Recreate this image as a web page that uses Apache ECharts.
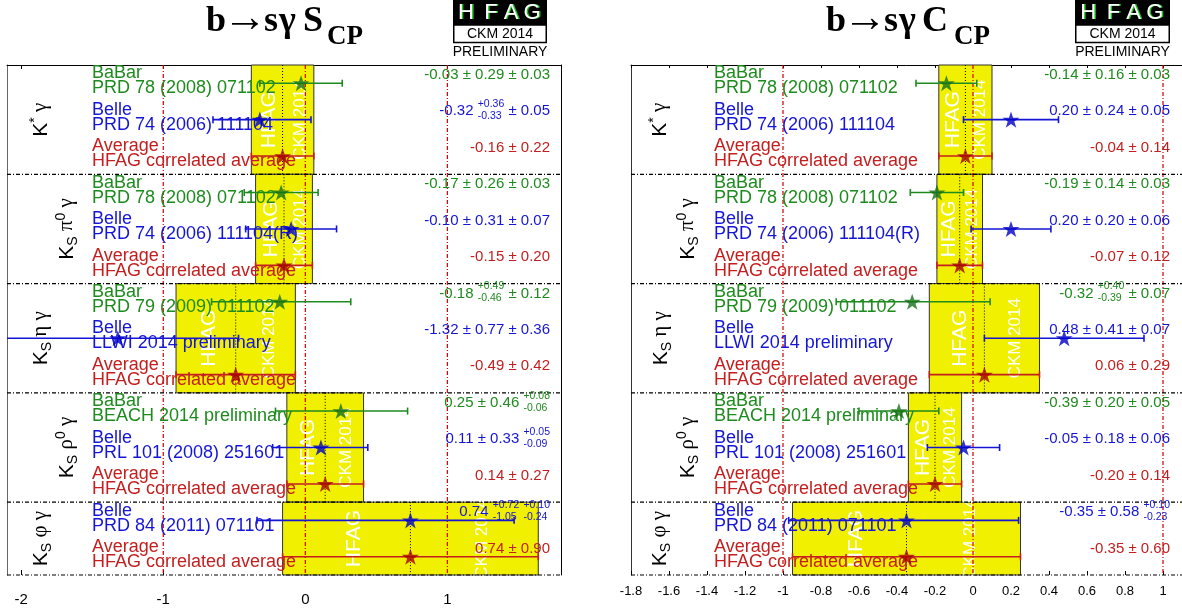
<!DOCTYPE html>
<html><head><meta charset="utf-8">
<script src="https://cdn.jsdelivr.net/npm/echarts@6.0.0/dist/echarts.min.js"></script>
<style>html,body{margin:0;padding:0;background:#fff;}#chart{width:1182px;height:615px;}</style>
</head><body><div id="chart"></div>
<script>
// ================= DATA =================
const experiments = ['BaBar','Belle','Average','BaBar','Belle','Average','BaBar','Belle','Average','BaBar','Belle','Average','Belle','Average'];
const references = ['PRD 78 (2008) 071102','PRD 74 (2006) 111104','HFAG correlated average',
  'PRD 78 (2008) 071102','PRD 74 (2006) 111104(R)','HFAG correlated average',
  'PRD 79 (2009) 011102','LLWI 2014 preliminary','HFAG correlated average',
  'BEACH 2014 preliminary','PRL 101 (2008) 251601','HFAG correlated average',
  'PRD 84 (2011) 071101','HFAG correlated average'];
const sectionBounds = [0, 3, 6, 9, 12, 14];
const averageRows = [2, 5, 8, 11, 13];
// decay labels: [text, kind]  kind: '' normal, 'sup', 'sub', 'greek'
const decayLabels = [
  [['K',''],['*','sup'],[' γ','greek']],
  [['K',''],['S','sub'],[' π','greek'],['0','sup'],[' γ','greek']],
  [['K',''],['S','sub'],[' η','greek'],[' γ','greek']],
  [['K',''],['S','sub'],[' ρ','greek'],['0','sup'],[' γ','greek']],
  [['K',''],['S','sub'],[' φ','greek'],[' γ','greek']]
];
// S_CP panel
const sCentral = [-0.03,-0.32,-0.16,-0.17,-0.10,-0.15,-0.18,-1.32,-0.49,0.25,0.11,0.14,0.74,0.74];
const sErrLow  = [0.29,0.33,0.22,0.26,0.32,0.20,0.48,0.85,0.42,0.46,0.34,0.27,1.08,0.90];
const sErrHigh = [0.29,0.36,0.22,0.26,0.32,0.20,0.50,0.85,0.42,0.47,0.33,0.27,0.73,0.90];
const sValueText = ['-0.03 ± 0.29 ± 0.03','-0.32 {+0.36|-0.33} ± 0.05','-0.16 ± 0.22',
  '-0.17 ± 0.26 ± 0.03','-0.10 ± 0.31 ± 0.07','-0.15 ± 0.20',
  '-0.18 {+0.49|-0.46} ± 0.12','-1.32 ± 0.77 ± 0.36','-0.49 ± 0.42',
  '0.25 ± 0.46 {+0.08|-0.06}','0.11 ± 0.33 {+0.05|-0.09}','0.14 ± 0.27',
  '0.74 {+0.72|-1.05} {+0.10|-0.24}','0.74 ± 0.90'];
const sTicks = [-2, -1, 0, 1];
// C_CP panel
const cCentral = [-0.14,0.20,-0.04,-0.19,0.20,-0.07,-0.32,0.48,0.06,-0.39,-0.05,-0.20,-0.35,-0.35];
const cErrLow  = [0.16,0.25,0.14,0.14,0.21,0.12,0.40,0.42,0.29,0.21,0.19,0.14,0.62,0.60];
const cErrHigh = [0.16,0.25,0.14,0.14,0.21,0.12,0.41,0.42,0.29,0.21,0.19,0.14,0.59,0.60];
const cValueText = ['-0.14 ± 0.16 ± 0.03','0.20 ± 0.24 ± 0.05','-0.04 ± 0.14',
  '-0.19 ± 0.14 ± 0.03','0.20 ± 0.20 ± 0.06','-0.07 ± 0.12',
  '-0.32 {+0.40|-0.39} ± 0.07','0.48 ± 0.41 ± 0.07','0.06 ± 0.29',
  '-0.39 ± 0.20 ± 0.05','-0.05 ± 0.18 ± 0.06','-0.20 ± 0.14',
  '-0.35 ± 0.58 {+0.10|-0.23}','-0.35 ± 0.60'];
const referenceLines = [-1, 0, 1];
const titles = [['b','→','s','γ','S','CP'], ['b','→','s','γ','C','CP']];

// ================= STYLE / HELPERS =================
const SANS = '"Liberation Sans", Arial, Helvetica, sans-serif';
const SERIF = '"Liberation Serif", "Times New Roman", "DejaVu Serif", serif';
const GREEN = '#1e8b1e', BLUE = '#1515d5', RED = '#c41e1e';
const STAR = {BaBar:'#157015', Belle:'#0000c8', Average:'#a40000'};
const YELLOW = '#f0f000';
function expColor(n){ return n==='BaBar'?GREEN:(n==='Belle'?BLUE:RED); }
const mctx = document.createElement('canvas').getContext('2d');
function fontStr(size, family, weight){ return (weight||'normal')+' '+size+'px '+family; }
function tw(t, size, family, weight){ mctx.font = fontStr(size,family,weight); return mctx.measureText(t).width; }
function T(t, x, baseline, size, family, weight, color, align){
  const al = align || 'left';
  return {type:'text', x:x, y:baseline - 0.345*size,
    style:{text:t, font:fontStr(size,family,weight), fill:color, align:al, textAlign:al, verticalAlign:'middle', textVerticalAlign:'middle'}};
}
// value strings with {top|bottom} stacks, right aligned
function valueEls(spec, right, baseline, color){
  const size = 15, small = 10.5;
  const toks = spec.split(/(\{[^}]*\})/).filter(s=>s.length);
  const items = toks.map(tok=>{
    if (tok[0]==='{'){
      const parts = tok.slice(1,-1).split('|');
      return {stack:parts, w:Math.max(tw(parts[0],small,SANS), tw(parts[1],small,SANS))};
    }
    return {t:tok, w:tw(tok,size,SANS)};
  });
  const total = items.reduce((a,b)=>a+b.w,0);
  let x = right - total; const els = [];
  items.forEach(it=>{
    if (it.stack){
      els.push(T(it.stack[0], x, baseline-8.4, small, SANS, 'normal', color));
      els.push(T(it.stack[1], x, baseline+3.4, small, SANS, 'normal', color));
    } else {
      els.push(T(it.t, x, baseline, size, SANS, 'normal', color));
    }
    x += it.w;
  });
  return els;
}

const panels = [
  {central:sCentral, errLow:sErrLow, errHigh:sErrHigh, valueText:sValueText, min:-2.1, max:1.8,
   nameOff:85, valueRight:543, decayOff:[41,67,41,67,41]},
  {central:cCentral, errLow:cErrLow, errHigh:cErrHigh, valueText:cValueText, min:-1.8, max:1.2,
   nameOff:83, valueRight:539, decayOff:[36,64,37,64,36]}
];

const STAR_PATH = 'path://M50,0 L61.8,35.1 L98.8,35.1 L68.8,57 L80.2,92.2 L50,70.5 L19.8,92.2 L31.2,57 L1.2,35.1 L38.2,35.1 Z';

// ================= OPTION =================
const grids = [
  {left:7, top:65, width:554, height:510, show:false, containLabel:false, outerBoundsMode:'none'},
  {left:631, top:65, width:570, height:510, show:false, containLabel:false, outerBoundsMode:'none'}
];
const xAxes = [], yAxes = [], series = [];

panels.forEach((p, g)=>{
  const isS = g===0;
  const tickCfg = isS ? {customValues:sTicks} : {};
  xAxes.push({gridIndex:g, type:'value', position:'bottom', min:p.min, max:p.max,
    interval: isS ? undefined : 0.2,
    axisLine:{show:false, onZero:false},
    axisTick:Object.assign({show:true, inside:true, length: isS?5:4, lineStyle:{color:'#000', width:1}}, tickCfg),
    axisLabel:Object.assign({show:true, color:'#000', fontFamily:SANS, fontSize: isS?15:13, margin: isS?17:10, showMinLabel:true, showMaxLabel:true}, isS?{customValues:sTicks}:{}),
    splitLine:{show:false}});
  xAxes.push({gridIndex:g, type:'value', position:'top', min:p.min, max:p.max,
    interval: isS ? undefined : 0.2,
    axisLine:{show:true, onZero:false, lineStyle:{color:'#000', width:1}},
    axisTick:Object.assign({show:true, inside:true, length: isS?4:3, lineStyle:{color:'#000', width:1}}, tickCfg),
    axisLabel:{show:false}, splitLine:{show:false}});
  yAxes.push({gridIndex:g, type:'value', min:0, max:14, inverse:true, position:'left',
    axisLine:{show:true, onZero:false, lineStyle:{color: isS?'#666':'#333', width:1}}, axisTick:{show:false}, axisLabel:{show:false}, splitLine:{show:false}});
  yAxes.push({gridIndex:g, type:'value', min:0, max:14, inverse:true, position:'right',
    axisLine:{show:true, onZero:false, lineStyle:{color:'#000', width:1}}, axisTick:{show:false}, axisLabel:{show:false}, splitLine:{show:false}});
  const xi = 2*g, yi = 2*g;

  // yellow HFAG bands
  const bandData = averageRows.map((r, k)=>[p.central[r]-p.errLow[r], p.central[r]+p.errHigh[r], sectionBounds[k], sectionBounds[k+1], p.central[r]]);
  series.push({type:'custom', xAxisIndex:xi, yAxisIndex:yi, z:1, silent:true, data:bandData,
    renderItem:(params, api)=>{
      const a = api.coord([api.value(0), api.value(2)]), b = api.coord([api.value(1), api.value(3)]);
      const m1 = api.coord([api.value(4), api.value(2)]), m2 = api.coord([api.value(4), api.value(3)]);
      const w = b[0]-a[0], cy = (a[1]+b[1])/2;
      return {type:'group', children:[
        {type:'rect', shape:{x:a[0], y:a[1], width:w, height:b[1]-a[1]}, style:{fill:YELLOW, stroke:'#333', lineWidth:1}},
        {type:'line', shape:{x1:m1[0], y1:m1[1], x2:m2[0], y2:m2[1]}, style:{stroke:'#000', lineWidth:1, lineDash:[1,2]}},
        {type:'group', x:a[0]+0.28*w, y:cy, rotation:Math.PI/2, children:[
          {type:'text', x:0, y:0, style:{text:'HFAG', font:fontStr(21,SANS), fill:'#fff', align:'center', textAlign:'center', verticalAlign:'middle', textVerticalAlign:'middle'}}]},
        {type:'group', x:a[0]+0.78*w, y:cy, rotation:Math.PI/2, children:[
          {type:'text', x:0, y:0, style:{text:'CKM 2014', font:fontStr(17,SANS), fill:'#fff', align:'center', textAlign:'center', verticalAlign:'middle', textVerticalAlign:'middle'}}]}
      ]};
    }});

  // red dash-dot reference lines
  series.push({type:'custom', xAxisIndex:xi, yAxisIndex:yi, z:2, silent:true,
    data:referenceLines.map(v=>[v, 0]),
    renderItem:(params, api)=>{
      const a = api.coord([api.value(0), 0]), b = api.coord([api.value(0), 14]);
      return {type:'line', shape:{x1:a[0], y1:a[1], x2:b[0], y2:b[1]}, style:{stroke:'#cc0000', lineWidth:1.2, lineDash:[4,2,1,2]}};
    }});

  // section separators (dash-dot)
  series.push({type:'custom', xAxisIndex:xi, yAxisIndex:yi, z:2, silent:true,
    data:sectionBounds.slice(1).map(v=>[p.min, v]),
    renderItem:(params, api)=>{
      const a = api.coord([p.min, api.value(1)]), b = api.coord([p.max, api.value(1)]);
      return {type:'line', shape:{x1:a[0], y1:a[1], x2:b[0], y2:b[1]}, style:{stroke:'#000', lineWidth:1.2, lineDash:[4,2,1,2]}};
    }});

  // row texts
  series.push({type:'custom', xAxisIndex:xi, yAxisIndex:yi, z:3, silent:true,
    data:experiments.map((e,i)=>[0, i]),
    renderItem:(params, api)=>{
      const row = api.value(1);
      const cs = params.coordSys;
      const cy = api.coord([0, row+0.5])[1];
      const col = expColor(experiments[row]);
      const x0 = cs.x + p.nameOff;
      const children = [
        T(experiments[row], x0, cy-3.5, 18, SANS, 'normal', col),
        T(references[row], x0, cy+11.5, 18, SANS, 'normal', col)
      ].concat(valueEls(p.valueText[row], cs.x + p.valueRight, cy-3.2, col));
      return {type:'group', children:children};
    }});

  // decay labels (rotated)
  series.push({type:'custom', xAxisIndex:xi, yAxisIndex:yi, z:3, silent:true,
    data:decayLabels.map((d,k)=>[0, sectionBounds[k], sectionBounds[k+1], k]),
    renderItem:(params, api)=>{
      const k = api.value(3);
      const cy = (api.coord([0, api.value(1)])[1] + api.coord([0, api.value(2)])[1])/2;
      const bx = params.coordSys.x + p.decayOff[k];
      const segs = decayLabels[k].map(s=>{
        const kind = s[1];
        const size = (kind==='sup'||kind==='sub') ? 14 : 21;
        const fam = kind==='greek' ? SERIF : SANS;
        const dy = kind==='sup' ? -8.5 : (kind==='sub' ? 4 : 0);
        return {t:s[0], size:size, fam:fam, dy:dy, w:tw(s[0], size, fam)};
      });
      const total = segs.reduce((a,b)=>a+b.w,0);
      let x = -total/2; const children = [];
      segs.forEach(s=>{ children.push(T(s.t, x, s.dy, s.size, s.fam, 'normal', '#000')); x += s.w; });
      return {type:'group', x:bx, y:cy, rotation:Math.PI/2, children:children};
    }});

  // error bars
  series.push({type:'custom', xAxisIndex:xi, yAxisIndex:yi, z:4, silent:true,
    data:p.central.map((c,i)=>[c-p.errLow[i], c+p.errHigh[i], i+0.5, i]),
    renderItem:(params, api)=>{
      const lo = api.value(0), hi = api.value(1), yv = api.value(2), row = api.value(3);
      const col = expColor(experiments[row]);
      const a = api.coord([Math.max(lo, p.min), yv]), b = api.coord([Math.min(hi, p.max), yv]);
      const st = {stroke:col, lineWidth:1.6};
      const ch = [{type:'line', shape:{x1:a[0], y1:a[1], x2:b[0], y2:b[1]}, style:st}];
      if (lo >= p.min) ch.push({type:'line', shape:{x1:a[0], y1:a[1]-3.5, x2:a[0], y2:a[1]+3.5}, style:st});
      if (hi <= p.max) ch.push({type:'line', shape:{x1:b[0], y1:b[1]-3.5, x2:b[0], y2:b[1]+3.5}, style:st});
      return {type:'group', children:ch};
    }});

  // stars
  series.push({type:'scatter', xAxisIndex:xi, yAxisIndex:yi, z:5, silent:true,
    symbol:STAR_PATH, symbolSize:17, symbolKeepAspect:true,
    data:p.central.map((c,i)=>({value:[c, i+0.5], itemStyle:{color:STAR[experiments[i]]}}))});
});

// ================= TITLES AND LOGOS (graphic) =================
const graphic = [];
function titleEls(parts, x0, xs){
  parts.forEach((t,i)=>{
    let el;
    if (i === parts.length-1) el = T(t, x0+xs[i], 46, 27, SERIF, 'bold', '#000');
    else if (t === '→') el = T(t, x0+xs[i], 35, 44, SERIF, 'normal', '#000');
    else el = T(t, x0+xs[i], 34, 36, SERIF, 'bold', '#000');
    el.z = 10;
    graphic.push(el);
  });
}
titleEls(titles[0], 206, [0, 17, 58, 73, 97, 121]);
titleEls(titles[1], 826, [0, 17, 58, 73, 96, 128]);

function logo(x0, w){
  graphic.push({type:'rect', shape:{x:x0, y:0, width:w, height:25}, style:{fill:'#000'}, z:10});
  graphic.push({type:'rect', shape:{x:x0+0.75, y:25, width:w-1.5, height:17.5}, style:{fill:'#fff', stroke:'#000', lineWidth:1.5}, z:10});
  const letters = ['H','F','A','G'], offs = [13, 38, 58, 79];
  letters.forEach((l,i)=>{
    graphic.push({type:'text', x:x0+offs[i]*w/94+1.5, y:13, z:11, style:{text:l, font:fontStr(22,SANS), fill:'#1bbf1b', align:'center', textAlign:'center', verticalAlign:'middle', textVerticalAlign:'middle'}});
    graphic.push({type:'text', x:x0+offs[i]*w/94, y:13, z:12, style:{text:l, font:fontStr(22,SANS), fill:'#fff', align:'center', textAlign:'center', verticalAlign:'middle', textVerticalAlign:'middle'}});
  });
  graphic.push({type:'text', x:x0+w/2, y:34, z:12, style:{text:'CKM 2014', font:fontStr(14,SANS), fill:'#000', align:'center', textAlign:'center', verticalAlign:'middle', textVerticalAlign:'middle'}});
  graphic.push({type:'text', x:x0+w/2, y:52, z:12, style:{text:'PRELIMINARY', font:fontStr(14,SANS), fill:'#000', align:'center', textAlign:'center', verticalAlign:'middle', textVerticalAlign:'middle'}});
}
logo(453, 94);
logo(1075, 95);

const chart = echarts.init(document.getElementById('chart'), null, {renderer:'canvas', width:1182, height:615});
chart.setOption({
  animation:false,
  backgroundColor:'#fff',
  grid:grids, xAxis:xAxes, yAxis:yAxes, series:series, graphic:graphic
});
</script>
</body></html>
